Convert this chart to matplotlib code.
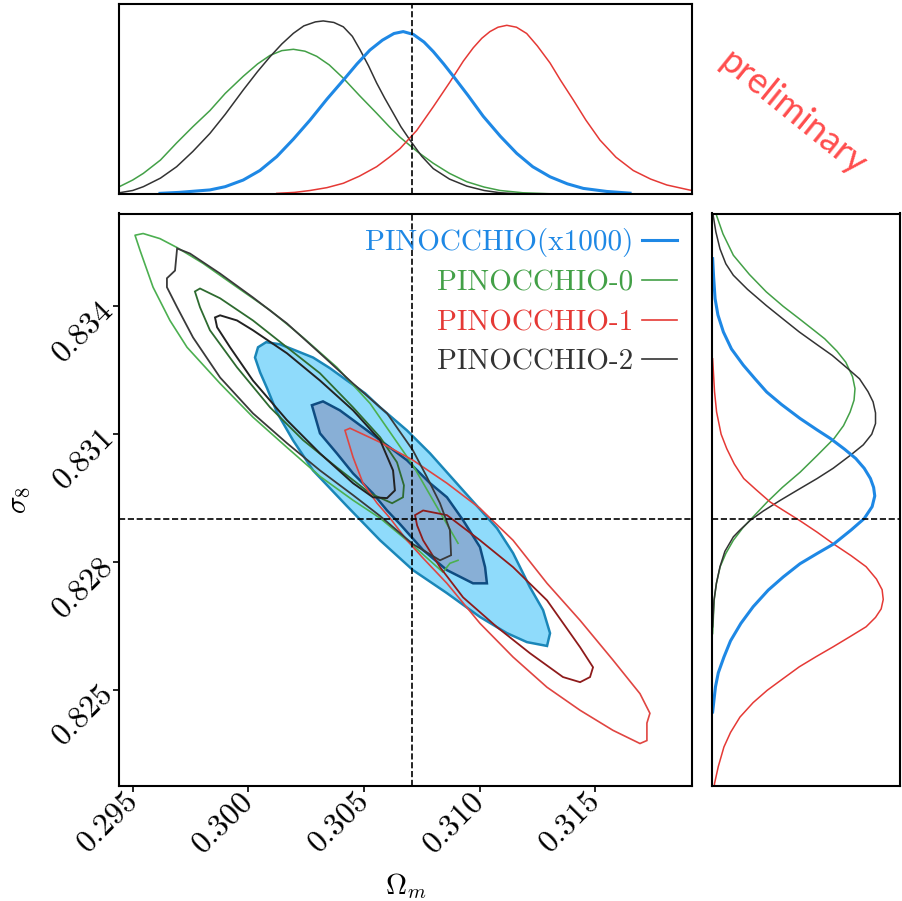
import matplotlib
matplotlib.use("Agg")
import matplotlib.pyplot as plt
from matplotlib.lines import Line2D
from matplotlib.ticker import FixedLocator, FormatStrFormatter

plt.rcParams['mathtext.fontset'] = 'cm'

# truth values and axis ranges
truth_om = 0.3071
truth_s8 = 0.8290
om_lim = (0.29442, 0.31919)
s8_lim = (0.82275, 0.83618)
om_ticks = [0.295, 0.300, 0.305, 0.310, 0.315]
s8_ticks = [0.825, 0.828, 0.831, 0.834]

labels = ["PINOCCHIO(x1000)", "PINOCCHIO-0", "PINOCCHIO-1", "PINOCCHIO-2"]
colors = ["#1E88E5", "#43A047", "#E53935", "#333333"]

# --- 1D marginals, Omega_m (heights relative to panel) ---
blue_top_om = [0.29618, 0.29700, 0.29834, 0.29900, 0.29978, 0.30050, 0.30123, 0.30195, 0.30267, 0.30340,
               0.30411, 0.30470, 0.30526, 0.30580, 0.30630, 0.30670, 0.30714, 0.30760, 0.30800, 0.30845,
               0.30887, 0.30950, 0.31016, 0.31090, 0.31161, 0.31230, 0.31305, 0.31380, 0.31449, 0.31550, 0.31651]
blue_top_h = [0.005, 0.01, 0.023, 0.04, 0.075, 0.125, 0.198, 0.29, 0.39, 0.50,
              0.60, 0.685, 0.758, 0.81, 0.845, 0.855, 0.84, 0.80, 0.75, 0.685,
              0.62, 0.52, 0.41, 0.305, 0.215, 0.145, 0.092, 0.055, 0.031, 0.015, 0.006]
green_top_om = [0.29400, 0.29442, 0.29500, 0.29546, 0.29620, 0.29690, 0.29760, 0.29834, 0.29900, 0.29978,
                0.30040, 0.30094, 0.30145, 0.30195, 0.30245, 0.30296, 0.30350, 0.30411, 0.30480, 0.30555,
                0.30610, 0.30656, 0.30730, 0.30800, 0.30870, 0.30945, 0.31020, 0.31089, 0.31188, 0.31300, 0.31450]
green_top_h = [0.025, 0.04, 0.075, 0.11, 0.18, 0.27, 0.355, 0.44, 0.53, 0.62,
               0.685, 0.73, 0.755, 0.762, 0.752, 0.725, 0.68, 0.61, 0.52, 0.426,
               0.355, 0.30, 0.225, 0.163, 0.11, 0.066, 0.038, 0.02, 0.008, 0.003, 0.0]
red_top_om = [0.30123, 0.30200, 0.30267, 0.30340, 0.30411, 0.30480, 0.30555, 0.30610, 0.30656, 0.30728,
              0.30800, 0.30872, 0.30930, 0.30973, 0.31010, 0.31045, 0.31080, 0.31118, 0.31160, 0.31204,
              0.31250, 0.31305, 0.31350, 0.31406, 0.31460, 0.31521, 0.31590, 0.31665, 0.31740, 0.31810,
              0.31910, 0.32000]
red_top_h = [0.005, 0.01, 0.02, 0.035, 0.058, 0.095, 0.145, 0.195, 0.24, 0.335,
             0.46, 0.59, 0.70, 0.77, 0.82, 0.855, 0.878, 0.888, 0.878, 0.845,
             0.78, 0.69, 0.60, 0.495, 0.39, 0.285, 0.195, 0.125, 0.08, 0.049,
             0.022, 0.01]
black_top_om = [0.29400, 0.29442, 0.29500, 0.29546, 0.29620, 0.29690, 0.29760, 0.29834, 0.29900, 0.29978,
                0.30040, 0.30094, 0.30145, 0.30195, 0.30240, 0.30290, 0.30324, 0.30370, 0.30411, 0.30450,
                0.30483, 0.30520, 0.30555, 0.30590, 0.30627, 0.30660, 0.30699, 0.30750, 0.30800, 0.30870,
                0.30945, 0.31020, 0.31089, 0.31200]
black_top_h = [0.004, 0.008, 0.02, 0.04, 0.085, 0.145, 0.225, 0.32, 0.42, 0.548,
               0.645, 0.723, 0.79, 0.846, 0.885, 0.906, 0.911, 0.903, 0.88, 0.83,
               0.76, 0.675, 0.585, 0.505, 0.426, 0.355, 0.285, 0.20, 0.135, 0.08,
               0.043, 0.02, 0.008, 0.0]

# --- 1D marginals, sigma_8 (widths relative to panel) ---
blue_r_s8 = [0.83512, 0.83470, 0.83418, 0.83380, 0.83340, 0.83300, 0.83262, 0.83230, 0.83199, 0.83170,
             0.83137, 0.83110, 0.83090, 0.83065, 0.83043, 0.83020, 0.82996, 0.82975, 0.82955, 0.82930,
             0.82902, 0.82875, 0.82843, 0.82820, 0.82796, 0.82765, 0.82734, 0.82695, 0.82656, 0.82615,
             0.82577, 0.82540, 0.82507, 0.82448]
blue_r_h = [0.005, 0.01, 0.018, 0.033, 0.062, 0.105, 0.168, 0.23, 0.292, 0.37,
            0.469, 0.56, 0.63, 0.705, 0.765, 0.81, 0.843, 0.86, 0.866, 0.852,
            0.81, 0.74, 0.65, 0.56, 0.469, 0.38, 0.30, 0.22, 0.155, 0.10,
            0.065, 0.035, 0.02, 0.005]
green_r_s8 = [0.83700, 0.83613, 0.83570, 0.83520, 0.83475, 0.83434, 0.83400, 0.83371, 0.83345, 0.83324,
              0.83295, 0.83269, 0.83235, 0.83207, 0.83180, 0.83152, 0.83120, 0.83090, 0.83050, 0.83011,
              0.82975, 0.82941, 0.82906, 0.82880, 0.82851, 0.82820, 0.82789, 0.82750, 0.82710, 0.82632]
green_r_h = [0.005, 0.026, 0.06, 0.115, 0.20, 0.29, 0.38, 0.465, 0.54, 0.60,
             0.665, 0.712, 0.748, 0.761, 0.756, 0.735, 0.70, 0.65, 0.56, 0.47,
             0.375, 0.295, 0.22, 0.165, 0.115, 0.075, 0.045, 0.025, 0.013, 0.005]
red_r_s8 = [0.83277, 0.83200, 0.83152, 0.83100, 0.83066, 0.83030, 0.82996, 0.82970, 0.82941, 0.82920,
            0.82898, 0.82870, 0.82843, 0.82815, 0.82789, 0.82760, 0.82735, 0.82712, 0.82690, 0.82670,
            0.82648, 0.82625, 0.82601, 0.82578, 0.82554, 0.82525, 0.82499, 0.82470, 0.82436, 0.82400,
            0.82366, 0.82320, 0.82280, 0.82200]
red_r_h = [0.005, 0.015, 0.026, 0.05, 0.08, 0.12, 0.17, 0.235, 0.31, 0.385,
           0.465, 0.56, 0.645, 0.74, 0.82, 0.875, 0.905, 0.911, 0.90, 0.87,
           0.82, 0.735, 0.645, 0.555, 0.465, 0.375, 0.295, 0.22, 0.15, 0.10,
           0.065, 0.035, 0.015, 0.0]
black_r_s8 = [0.83700, 0.83613, 0.83575, 0.83535, 0.83500, 0.83473, 0.83440, 0.83402, 0.83370, 0.83340,
              0.83310, 0.83285, 0.83255, 0.83230, 0.83200, 0.83176, 0.83150, 0.83125, 0.83100, 0.83075,
              0.83050, 0.83020, 0.82996, 0.82970, 0.82945, 0.82920, 0.82898, 0.82875, 0.82859, 0.82825,
              0.82789, 0.82750, 0.82710, 0.82648]
black_r_h = [0.0, 0.008, 0.022, 0.044, 0.075, 0.115, 0.19, 0.29, 0.38, 0.465,
             0.56, 0.64, 0.72, 0.785, 0.83, 0.857, 0.870, 0.870, 0.85, 0.805,
             0.735, 0.645, 0.56, 0.46, 0.365, 0.275, 0.205, 0.15, 0.115, 0.07,
             0.044, 0.025, 0.012, 0.005]

# --- 2D contours (Omega_m, sigma_8) ---
blue_out_om = [0.30029, 0.30042, 0.30077, 0.30137, 0.30202, 0.30280, 0.30353, 0.30427, 0.30505, 0.30570,
               0.30686, 0.30786, 0.30929, 0.31076, 0.31145, 0.31218, 0.31275, 0.31305, 0.31292, 0.31205,
               0.31119, 0.31002, 0.30859, 0.30712, 0.30570, 0.30427, 0.30280, 0.30193, 0.30124, 0.30081, 0.30051]
blue_out_s8 = [0.83280, 0.83304, 0.83316, 0.83311, 0.83297, 0.83280, 0.83255, 0.83226, 0.83196, 0.83163,
               0.83109, 0.83055, 0.82968, 0.82879, 0.82821, 0.82741, 0.82687, 0.82633, 0.82603, 0.82612,
               0.82633, 0.82671, 0.82727, 0.82781, 0.82851, 0.82931, 0.83015, 0.83086, 0.83151, 0.83208, 0.83245]
blue_in_om = [0.30275, 0.30323, 0.30396, 0.30496, 0.30570, 0.30686, 0.30786, 0.30859, 0.30929, 0.31002,
              0.31024, 0.31032, 0.30972, 0.30859, 0.30756, 0.30656, 0.30600, 0.30539, 0.30453, 0.30383, 0.30310]
blue_in_s8 = [0.83168, 0.83177, 0.83156, 0.83116, 0.83086, 0.83039, 0.82985, 0.82952, 0.82898, 0.82835,
              0.82788, 0.82750, 0.82750, 0.82781, 0.82828, 0.82889, 0.82921, 0.82961, 0.83008, 0.83055, 0.83102]

green_out_om = [0.30907, 0.30816, 0.30712, 0.30527, 0.30383, 0.30237, 0.30094, 0.29951, 0.29804, 0.29692,
                0.29618, 0.29545, 0.29510, 0.29532, 0.29588, 0.29661, 0.29735, 0.29878, 0.30020, 0.30167,
                0.30310, 0.30453, 0.30570, 0.30712, 0.30842, 0.30872, 0.30907]
green_out_s8 = [0.82844, 0.82929, 0.83027, 0.83172, 0.83257, 0.83327, 0.83391, 0.83445, 0.83501, 0.83538,
                0.83559, 0.83571, 0.83567, 0.83531, 0.83445, 0.83367, 0.83304, 0.83219, 0.83140, 0.83069,
                0.83001, 0.82945, 0.82903, 0.82839, 0.82776, 0.82797, 0.82804]
green_in_om = [0.29769, 0.29791, 0.29878, 0.30020, 0.30167, 0.30310, 0.30453, 0.30570, 0.30643, 0.30673,
               0.30669, 0.30622, 0.30527, 0.30383, 0.30237, 0.30094, 0.29951, 0.29834, 0.29791]
green_in_s8 = [0.83435, 0.83442, 0.83419, 0.83367, 0.83304, 0.83243, 0.83163, 0.83093, 0.83034, 0.82980,
               0.82952, 0.82938, 0.82961, 0.83022, 0.83086, 0.83163, 0.83257, 0.83344, 0.83398]

red_out_om = [0.30418, 0.30440, 0.30570, 0.30712, 0.30859, 0.31002, 0.31145, 0.31292, 0.31435, 0.31577,
              0.31694, 0.31737, 0.31724, 0.31724, 0.31694, 0.31577, 0.31435, 0.31292, 0.31145, 0.31002,
              0.30859, 0.30756, 0.30686, 0.30613, 0.30557, 0.30496, 0.30453]
red_out_s8 = [0.83109, 0.83114, 0.83081, 0.83039, 0.82985, 0.82926, 0.82851, 0.82750, 0.82663, 0.82570,
              0.82491, 0.82445, 0.82422, 0.82381, 0.82374, 0.82405, 0.82452, 0.82506, 0.82577, 0.82656,
              0.82750, 0.82809, 0.82851, 0.82903, 0.82938, 0.82985, 0.83046]
red_in_om = [0.30721, 0.30756, 0.30859, 0.31002, 0.31145, 0.31292, 0.31435, 0.31491, 0.31478, 0.31435,
             0.31361, 0.31218, 0.31076, 0.30929, 0.30829, 0.30756, 0.30730]
red_in_s8 = [0.82910, 0.82921, 0.82910, 0.82851, 0.82788, 0.82710, 0.82600, 0.82553, 0.82530, 0.82518,
             0.82530, 0.82586, 0.82647, 0.82717, 0.82788, 0.82851, 0.82886]

black_out_om = [0.29692, 0.29748, 0.29878, 0.30020, 0.30167, 0.30310, 0.30453, 0.30600, 0.30712, 0.30773,
                0.30829, 0.30872, 0.30877, 0.30829, 0.30712, 0.30570, 0.30453, 0.30310, 0.30167, 0.30020,
                0.29878, 0.29761, 0.29692, 0.29648, 0.29648, 0.29683]
black_out_s8 = [0.83536, 0.83524, 0.83477, 0.83421, 0.83360, 0.83290, 0.83219, 0.83149, 0.83062, 0.82999,
                0.82938, 0.82875, 0.82816, 0.82804, 0.82842, 0.82908, 0.82957, 0.83015, 0.83079, 0.83149,
                0.83233, 0.83327, 0.83398, 0.83445, 0.83466, 0.83484]
black_in_om = [0.29856, 0.29878, 0.29951, 0.30020, 0.30167, 0.30310, 0.30453, 0.30570, 0.30626, 0.30634,
               0.30600, 0.30539, 0.30453, 0.30310, 0.30167, 0.30020, 0.29921, 0.29865]
black_in_s8 = [0.83374, 0.83379, 0.83367, 0.83344, 0.83290, 0.83226, 0.83156, 0.83086, 0.83015, 0.82968,
               0.82950, 0.82952, 0.82985, 0.83055, 0.83133, 0.83226, 0.83304, 0.83351]

W, H = 903, 901
fig = plt.figure(figsize=(W / 100, H / 100), dpi=100)
ax = fig.add_axes([119.3 / W, 1 - 785.7 / H, 572.7 / W, 572.2 / H])
axt = fig.add_axes([119.3 / W, 1 - 194.3 / H, 572.7 / W, 190.3 / H])
axr = fig.add_axes([711.7 / W, 1 - 785.7 / H, 188.3 / W, 572.2 / H])

# filled contours for the x1000 run
ax.fill(blue_out_om, blue_out_s8, facecolor="#8FDBFB", edgecolor="#1A86B8", lw=1.8, zorder=1)
ax.fill(blue_in_om, blue_in_s8, facecolor="#88AFD6", edgecolor="#0F4C81", lw=1.8, zorder=2)

# line contours
ax.plot(green_out_om, green_out_s8, color="#4CAF50", lw=1.2, zorder=3)
ax.fill(green_in_om, green_in_s8, fill=False, edgecolor="#2E6B30", lw=1.3, zorder=3)
ax.fill(red_out_om, red_out_s8, fill=False, edgecolor="#E04541", lw=1.2, zorder=3)
ax.fill(red_in_om, red_in_s8, fill=False, edgecolor="#8E1B1B", lw=1.3, zorder=3)
ax.fill(black_out_om, black_out_s8, fill=False, edgecolor="#3A3A3A", lw=1.3, zorder=3)
ax.fill(black_in_om, black_in_s8, fill=False, edgecolor="#222222", lw=1.4, zorder=3)

ax.axvline(truth_om, color="k", ls="--", lw=1.2, zorder=5)
ax.axhline(truth_s8, color="k", ls="--", lw=1.2, zorder=5)

# marginals
axt.plot(green_top_om, green_top_h, color=colors[1], lw=1.1)
axt.plot(black_top_om, black_top_h, color=colors[3], lw=1.1)
axt.plot(red_top_om, red_top_h, color=colors[2], lw=1.1)
axt.plot(blue_top_om, blue_top_h, color=colors[0], lw=2.2)
axt.axvline(truth_om, color="k", ls="--", lw=1.2)

axr.plot(green_r_h, green_r_s8, color=colors[1], lw=1.1)
axr.plot(black_r_h, black_r_s8, color=colors[3], lw=1.1)
axr.plot(red_r_h, red_r_s8, color=colors[2], lw=1.1)
axr.plot(blue_r_h, blue_r_s8, color=colors[0], lw=2.2)
axr.axhline(truth_s8, color="k", ls="--", lw=1.2)

ax.set_xlim(om_lim)
ax.set_ylim(s8_lim)
axt.set_xlim(om_lim)
axt.set_ylim(0, 1)
axr.set_ylim(s8_lim)
axr.set_xlim(0, 1)
for a in (axt, axr):
    a.set_xticks([])
    a.set_yticks([])
for a in (ax, axt, axr):
    for sp in a.spines.values():
        sp.set_linewidth(1.5)
        sp.set_color("k")

ax.xaxis.set_major_locator(FixedLocator(om_ticks))
ax.yaxis.set_major_locator(FixedLocator(s8_ticks))
ax.xaxis.set_major_formatter(FormatStrFormatter(r"$%.3f$"))
ax.yaxis.set_major_formatter(FormatStrFormatter(r"$%.3f$"))
ax.tick_params(direction="out", length=4, width=1.2, labelsize=23, pad=4)
for lbl in ax.get_xticklabels() + ax.get_yticklabels():
    lbl.set_rotation(45)
    lbl.set_ha("right")
    lbl.set_va("center")
    lbl.set_rotation_mode("anchor")

ax.set_xlabel(r"$\Omega_m$", fontsize=21)
ax.set_ylabel(r"$\sigma_8$", fontsize=21)
ax.xaxis.set_label_coords(0.5, -0.15)
ax.yaxis.set_label_coords(-0.15, 0.5)

handles = [Line2D([], [], color=c, lw=(2.2 if i == 0 else 1.2)) for i, c in enumerate(colors)]
leg = ax.legend(handles, labels, loc="upper right", frameon=False, markerfirst=False,
                prop={"family": "cmr10", "size": 21}, handlelength=1.2, handletextpad=0.3,
                labelspacing=0.45, borderaxespad=0.3, borderpad=0.2, labelcolor=colors)

fig.text(793 / W, 1 - 113 / H, "preliminary", rotation=-39, ha="center", va="center",
         fontsize=26, color="#FF4D4D", family="Lato")

fig.savefig("out.png", dpi=100)
